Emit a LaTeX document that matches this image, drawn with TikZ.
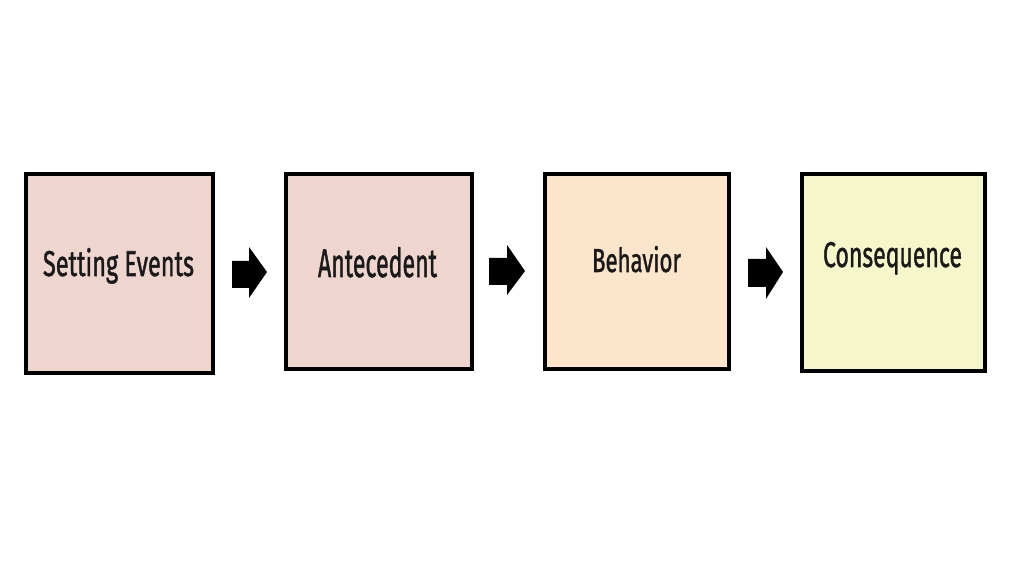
\documentclass[tikz,border=0pt]{standalone}
\usepackage{fontspec}
\setmainfont{Fira Sans}
\newfontfamily\lblfont{Fira Sans}[FakeBold=1.5]
\usepackage{graphicx}
\definecolor{pinkfill}{HTML}{EED5CE}
\definecolor{peachfill}{HTML}{FDE5CB}
\definecolor{yellowfill}{HTML}{F5F7CB}
\tikzset{
  box/.style={draw=black, line width=4pt, rectangle, inner sep=0pt, outer sep=0pt},
  lbl/.style={anchor=base, inner sep=0pt, outer sep=0pt, text=black!90},
  blockarrow/.style={fill=black, draw=none}
}
\newcommand{\lab}[3]{\resizebox{#1pt}{#2pt}{\lblfont #3}}
\begin{document}
\begin{tikzpicture}[x=1pt,y=1pt]
\useasboundingbox (0,0) rectangle (1024,576);
\node[box, fill=pinkfill, minimum width=187pt, minimum height=199pt] (b1) at (119.5,302.5) {};
\node[box, fill=pinkfill, minimum width=186pt, minimum height=195pt] (b2) at (379,304.5) {};
\node[box, fill=peachfill, minimum width=184pt, minimum height=195pt] (b3) at (637,304.5) {};
\node[box, fill=yellowfill, minimum width=183pt, minimum height=197pt] (b4) at (893.5,303.5) {};
\node[lbl] (t1) at (118.5,300) {\lab{151}{28}{Setting Events}};
\node[lbl] (t2) at (377.5,299) {\lab{119}{30}{Antecedent}};
\node[lbl] (t3) at (636.5,304) {\lab{89}{26}{Behavior}};
\node[lbl] (t4) at (892.5,309) {\lab{139}{25}{Consequence}};
\fill[blockarrow] (232,315) -- (249,315) -- (249,329) -- (267,304) -- (249,278) -- (249,288) -- (232,288) -- cycle;
\fill[blockarrow] (489,318) -- (507,318) -- (507,331) -- (525,305) -- (507,281) -- (507,291) -- (489,291) -- cycle;
\fill[blockarrow] (748,317) -- (766,317) -- (766,329) -- (783,304) -- (766,277) -- (766,289) -- (748,289) -- cycle;
\end{tikzpicture}
\end{document}
